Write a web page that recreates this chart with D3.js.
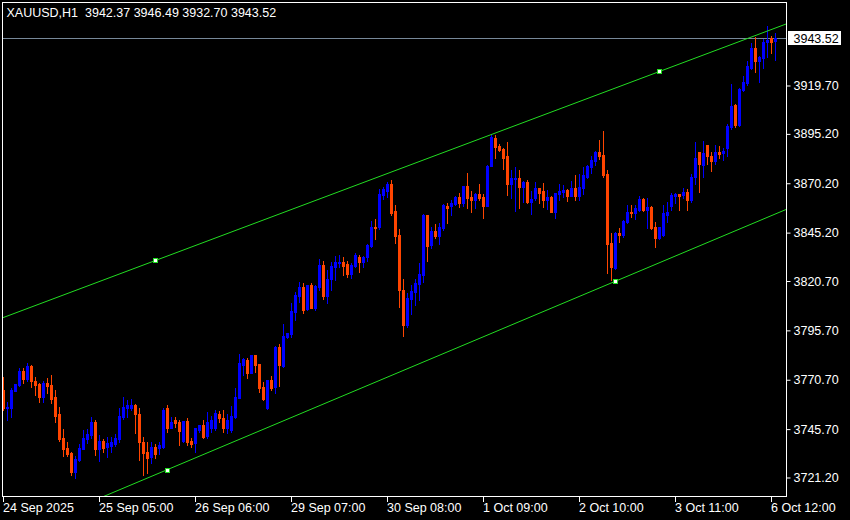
<!DOCTYPE html>
<html><head><meta charset="utf-8">
<script src="https://cdn.jsdelivr.net/npm/d3@7"></script>
<style>
html,body{margin:0;padding:0;background:#000;}
svg{display:block;}
text{font-family:"Liberation Sans",Arial,sans-serif;font-size:12.5px;}
</style></head>
<body>
<svg id="chart" width="850" height="520"></svg>
<script>
const symbolLabel = "XAUUSD,H1";
const opens = [3765.5,3756.5,3756.3,3765.2,3768.0,3775.3,3771.1,3777.7,3770.1,3768.5,3762.1,3769.0,3768.0,3762.1,3753.2,3741.2,3736.1,3733.6,3723.8,3730.1,3735.6,3740.7,3742.7,3749.3,3735.6,3739.7,3736.8,3737.3,3738.0,3740.5,3752.0,3756.2,3756.2,3757.9,3753.2,3739.3,3734.3,3731.7,3736.8,3736.1,3736.8,3756.2,3746.4,3750.3,3749.5,3739.7,3749.8,3739.7,3738.5,3745.2,3747.8,3742.2,3746.3,3746.3,3753.4,3751.3,3746.3,3745.2,3752.0,3761.6,3778.2,3780.7,3774.3,3783.1,3778.7,3767.2,3756.2,3770.6,3766.9,3787.4,3777.7,3792.2,3793.9,3805.2,3813.0,3817.8,3806.4,3818.7,3807.2,3817.8,3828.8,3813.1,3821.6,3827.9,3830.0,3830.5,3829.3,3824.2,3828.3,3833.0,3830.5,3832.7,3838.4,3848.0,3847.9,3864.3,3866.3,3869.8,3856.0,3844.0,3816.1,3798.4,3811.6,3815.0,3819.0,3823.7,3854.1,3838.9,3846.0,3843.5,3847.7,3858.8,3858.7,3859.7,3863.4,3860.0,3868.8,3863.4,3861.7,3864.8,3863.4,3858.8,3879.1,3893.3,3889.1,3887.5,3884.0,3869.7,3872.6,3873.0,3868.5,3871.0,3860.6,3862.6,3867.6,3866.3,3861.7,3863.4,3855.8,3864.6,3865.9,3866.8,3863.9,3867.6,3863.9,3867.9,3873.6,3878.6,3881.6,3886.2,3884.5,3874.9,3840.1,3827.1,3844.9,3844.0,3850.7,3855.8,3855.0,3856.7,3862.1,3856.7,3858.0,3847.9,3842.3,3844.0,3854.1,3858.7,3863.7,3864.8,3864.3,3865.9,3861.7,3873.5,3885.9,3879.4,3889.6,3884.2,3881.5,3886.2,3885.4,3888.2,3898.8,3909.8,3899.7,3917.4,3920.8,3928.4,3938.8,3932.1,3933.8,3941.6,3943.6,3942.37];
const highs = [3772.1,3759.6,3766.7,3768.5,3776.8,3776.5,3779.2,3778.2,3771.9,3768.9,3770.1,3771.7,3773.1,3765.5,3757.0,3745.8,3739.0,3734.3,3732.1,3738.0,3745.2,3745.8,3751.8,3750.3,3742.7,3740.7,3741.6,3741.6,3743.1,3756.2,3762.1,3760.4,3760.9,3758.3,3756.2,3741.9,3739.3,3739.3,3738.0,3739.2,3756.5,3757.9,3752.0,3752.0,3750.3,3750.0,3751.2,3741.0,3746.4,3748.0,3750.3,3754.5,3752.3,3755.4,3755.0,3755.4,3753.4,3757.4,3766.4,3783.7,3781.6,3781.6,3783.3,3783.3,3778.9,3769.4,3770.8,3772.6,3787.8,3788.8,3798.9,3794.4,3809.4,3814.9,3820.3,3819.5,3818.9,3819.8,3818.5,3831.7,3831.0,3826.3,3830.5,3833.4,3833.9,3832.7,3831.0,3829.7,3834.7,3833.9,3833.4,3839.4,3851.2,3851.9,3867.3,3868.5,3870.6,3871.8,3859.2,3847.0,3821.7,3814.5,3818.7,3821.7,3829.7,3854.5,3854.3,3848.2,3849.4,3849.9,3859.5,3860.0,3861.7,3863.6,3865.1,3869.0,3875.2,3866.3,3865.1,3869.7,3864.6,3879.4,3895.0,3894.6,3889.9,3888.2,3891.0,3876.9,3878.6,3876.9,3871.3,3871.8,3866.3,3870.7,3867.8,3870.2,3866.8,3863.6,3865.3,3869.7,3869.3,3867.3,3871.3,3874.4,3874.7,3878.6,3879.6,3884.0,3886.4,3892.1,3896.7,3876.9,3845.2,3845.7,3847.4,3851.6,3859.2,3859.2,3859.2,3863.7,3862.6,3862.6,3858.7,3850.7,3848.1,3859.2,3860.9,3865.1,3865.4,3865.0,3867.6,3867.4,3874.7,3891.0,3886.2,3891.6,3889.8,3886.2,3889.6,3889.2,3888.2,3900.1,3920.3,3910.2,3918.6,3924.7,3932.1,3941.1,3944.4,3934.8,3943.3,3950.0,3944.9,3946.49];
const lows = [3755.4,3750.3,3752.0,3765.0,3767.7,3769.2,3770.1,3767.2,3763.0,3759.6,3759.6,3763.8,3758.8,3749.5,3739.7,3732.1,3732.1,3722.5,3720.8,3729.6,3735.4,3738.5,3741.2,3732.6,3729.6,3734.1,3731.7,3733.9,3737.3,3739.3,3750.8,3752.0,3755.4,3743.6,3730.1,3722.5,3723.3,3728.4,3730.9,3733.1,3736.0,3744.4,3746.1,3746.6,3737.7,3739.3,3737.7,3736.8,3733.9,3744.4,3741.0,3741.2,3744.2,3745.2,3749.3,3744.2,3743.7,3744.2,3751.2,3761.4,3773.1,3771.4,3774.1,3774.8,3764.6,3760.4,3756.0,3765.5,3763.8,3767.5,3777.0,3792.0,3792.5,3801.0,3810.2,3804.6,3806.0,3806.9,3806.0,3816.1,3811.4,3809.4,3816.1,3821.2,3827.9,3823.7,3822.9,3822.1,3827.9,3825.4,3827.9,3831.0,3837.8,3842.0,3846.9,3862.1,3863.2,3854.1,3839.8,3807.7,3793.0,3797.6,3803.8,3808.5,3811.1,3820.3,3830.8,3837.3,3842.6,3839.3,3846.5,3849.9,3854.1,3859.2,3858.3,3858.8,3857.8,3855.5,3857.5,3861.7,3852.8,3858.6,3878.9,3883.1,3886.5,3877.4,3864.3,3862.6,3856.2,3857.8,3860.6,3860.4,3854.5,3861.7,3860.0,3858.3,3857.2,3855.5,3852.8,3861.7,3863.4,3861.2,3863.7,3861.7,3861.7,3864.6,3873.0,3875.5,3879.4,3882.3,3873.5,3824.9,3821.2,3826.6,3840.6,3842.8,3849.9,3853.0,3851.9,3856.3,3856.3,3847.4,3846.9,3837.8,3841.8,3843.5,3850.7,3856.7,3860.0,3856.7,3862.6,3856.9,3860.6,3869.7,3865.9,3873.5,3879.8,3876.4,3879.8,3883.1,3882.0,3884.2,3897.7,3898.8,3899.3,3916.9,3920.0,3928.1,3926.4,3921.3,3928.4,3934.3,3936.0,3932.70];
const closes = [3756.3,3756.8,3765.5,3768.4,3775.3,3771.1,3777.7,3770.1,3768.0,3762.1,3769.0,3767.5,3760.9,3752.3,3740.7,3735.6,3733.1,3724.1,3730.6,3736.1,3741.2,3743.2,3749.3,3735.6,3739.7,3736.1,3738.5,3739.3,3741.4,3752.3,3756.7,3757.9,3757.9,3753.2,3739.3,3733.4,3730.9,3736.8,3732.9,3737.7,3755.4,3746.1,3749.5,3748.6,3744.7,3749.8,3739.3,3738.0,3746.1,3747.8,3741.9,3749.3,3750.3,3753.7,3751.2,3746.3,3750.3,3752.5,3762.1,3779.0,3781.1,3774.3,3783.1,3778.2,3766.7,3760.8,3770.6,3766.4,3787.4,3778.2,3792.8,3794.2,3805.4,3813.6,3817.8,3806.0,3818.7,3807.2,3818.2,3828.8,3813.1,3821.7,3828.3,3830.5,3830.5,3828.3,3824.2,3828.8,3833.9,3830.5,3832.7,3838.9,3847.9,3847.5,3864.8,3867.1,3870.0,3855.3,3843.6,3816.1,3798.4,3811.9,3815.6,3819.5,3824.1,3854.1,3838.6,3846.0,3843.5,3848.2,3859.2,3857.8,3860.4,3863.4,3860.0,3868.8,3862.6,3861.7,3864.8,3862.6,3858.8,3879.1,3893.8,3888.7,3887.0,3883.1,3869.8,3873.0,3872.9,3868.5,3871.0,3860.6,3862.2,3867.6,3865.1,3861.7,3863.4,3855.8,3865.1,3866.3,3866.8,3863.9,3867.6,3863.9,3868.5,3874.4,3878.9,3882.0,3886.2,3884.0,3874.4,3839.4,3827.9,3844.9,3844.0,3851.2,3855.6,3855.3,3857.5,3862.1,3856.7,3858.0,3847.4,3842.3,3847.9,3855.0,3855.8,3864.3,3864.8,3863.7,3865.9,3861.9,3873.5,3882.8,3879.8,3885.4,3884.0,3881.5,3886.2,3885.2,3886.5,3899.3,3909.5,3899.7,3917.9,3921.3,3929.7,3938.8,3932.1,3934.3,3941.6,3942.7,3941.9,3943.52];
const timeTickIndex = [0,24,48,72,96,120,144,168,192];
const timeTickLabels = ["24 Sep 2025","25 Sep 05:00","26 Sep 06:00","29 Sep 07:00","30 Sep 08:00","1 Oct 09:00","2 Oct 10:00","3 Oct 11:00","6 Oct 12:00"];
const priceTicks = [3919.70,3895.20,3870.20,3845.20,3820.70,3795.70,3770.70,3745.70,3721.20];
const trendUpper = [[38,3831.1],[164,3926.8]];
const trendLower = [[41,3725.2],[153,3820.6]];

const n = opens.length;
const pLeft = 2, pTop = 2, pRight = 786, pBottom = 496;
const bull = "#0000ff", bear = "#ff4500", lineCol = "#22dd22", bidCol = "#778899";

const svg = d3.select("#chart");
svg.append("rect").attr("width",850).attr("height",520).attr("fill","#000");

const x = d3.scaleLinear().domain([0, n-1]).range([3.5, 3.5 + 4*(n-1)]);
const y = d3.scaleLinear().domain([3711.83, 3961.98]).range([pBottom, pTop]);

svg.append("defs").append("clipPath").attr("id","plot")
  .append("rect").attr("x",pLeft+1).attr("y",pTop+1).attr("width",pRight-pLeft-1).attr("height",pBottom-pTop-1);

const plot = svg.append("g").attr("clip-path","url(#plot)");

// bid line
plot.append("line").attr("x1",pLeft).attr("x2",pRight)
  .attr("y1",Math.round(y(closes[n-1]))+0.5).attr("y2",Math.round(y(closes[n-1]))+0.5)
  .attr("stroke",bidCol).attr("stroke-width",1);

const idx = d3.range(n);
const cg = plot.append("g").attr("shape-rendering","crispEdges");
cg.selectAll("rect.w").data(idx).join("rect").attr("class","w")
  .attr("x", i => x(i)-0.5).attr("width",1)
  .attr("y", i => Math.round(y(highs[i])))
  .attr("height", i => Math.max(1, Math.round(y(lows[i])) - Math.round(y(highs[i])) + 1))
  .attr("fill", i => closes[i] >= opens[i] ? bull : bear);
cg.selectAll("rect.b").data(idx).join("rect").attr("class","b")
  .attr("x", i => x(i)-1.5).attr("width",3)
  .attr("y", i => Math.round(y(Math.max(opens[i],closes[i]))))
  .attr("height", i => Math.max(1, Math.round(y(Math.min(opens[i],closes[i]))) - Math.round(y(Math.max(opens[i],closes[i]))) + 1))
  .attr("fill", i => closes[i] >= opens[i] ? bull : bear);

// trend lines
function drawTrend(pts){
  const [[i1,p1],[i2,p2]] = pts;
  const slope = (p2-p1)/(i2-i1);
  const a = -5, b = n + 10;
  plot.append("line")
    .attr("x1", x(a)).attr("y1", y(p1 + slope*(a-i1)))
    .attr("x2", x(b)).attr("y2", y(p1 + slope*(b-i1)))
    .attr("stroke", lineCol).attr("stroke-width",1);
  pts.forEach(([i,p]) => {
    const cx = Math.floor(x(i)), cy = Math.round(y(p));
    plot.append("rect").attr("x",cx-2).attr("y",cy-2).attr("width",5).attr("height",5).attr("fill",lineCol).attr("shape-rendering","crispEdges");
    plot.append("rect").attr("x",cx-1).attr("y",cy-1).attr("width",3).attr("height",3).attr("fill","#fff").attr("shape-rendering","crispEdges");
  });
}
drawTrend(trendUpper);
drawTrend(trendLower);

// frame
svg.append("rect").attr("x",pLeft+0.5).attr("y",pTop+0.5).attr("width",pRight-pLeft).attr("height",pBottom-pTop)
  .attr("fill","none").attr("stroke","#fff").attr("stroke-width",1).attr("shape-rendering","crispEdges");

// price axis
const ya = d3.axisRight(y).tickValues(priceTicks).tickFormat(d3.format(".2f")).tickSize(4).tickPadding(3).offset(0);
const yg = svg.append("g").attr("transform",`translate(${pRight+0.5},0)`).call(ya);
yg.select(".domain").remove();
yg.selectAll("line").attr("stroke","#fff").attr("transform","translate(0,0.5)");
yg.selectAll("text").attr("fill","#fff").attr("font-size",null).attr("font-family",null).attr("dy","0.36em");

// time axis
const xa = d3.axisBottom(x).tickValues(timeTickIndex).tickFormat((d,k) => timeTickLabels[k]).tickSize(5).offset(0);
const xg = svg.append("g").attr("transform",`translate(0,${pBottom+0.5})`).call(xa);
xg.select(".domain").remove();
xg.selectAll("line").attr("stroke","#fff").attr("shape-rendering","crispEdges");
xg.selectAll("text").attr("fill","#fff").attr("text-anchor","start").attr("x",-0.5).attr("y",15).attr("dy",0)
  .attr("font-size",null).attr("font-family",null);

// last price label
const ly = y(closes[n-1]);
svg.append("rect").attr("x",788).attr("y",Math.round(ly)-7).attr("width",53).attr("height",14).attr("fill","#fff");
svg.append("text").attr("x",793.5).attr("y",ly).attr("dy","0.36em").attr("fill","#000").text(d3.format(".2f")(closes[n-1]));

// header
svg.append("text").attr("x",6.5).attr("y",17).attr("fill","#fff").attr("xml:space","preserve")
  .text(`${symbolLabel}  ${[opens[n-1],highs[n-1],lows[n-1],closes[n-1]].map(d3.format(".2f")).join(" ")}`);
</script>
</body></html>
